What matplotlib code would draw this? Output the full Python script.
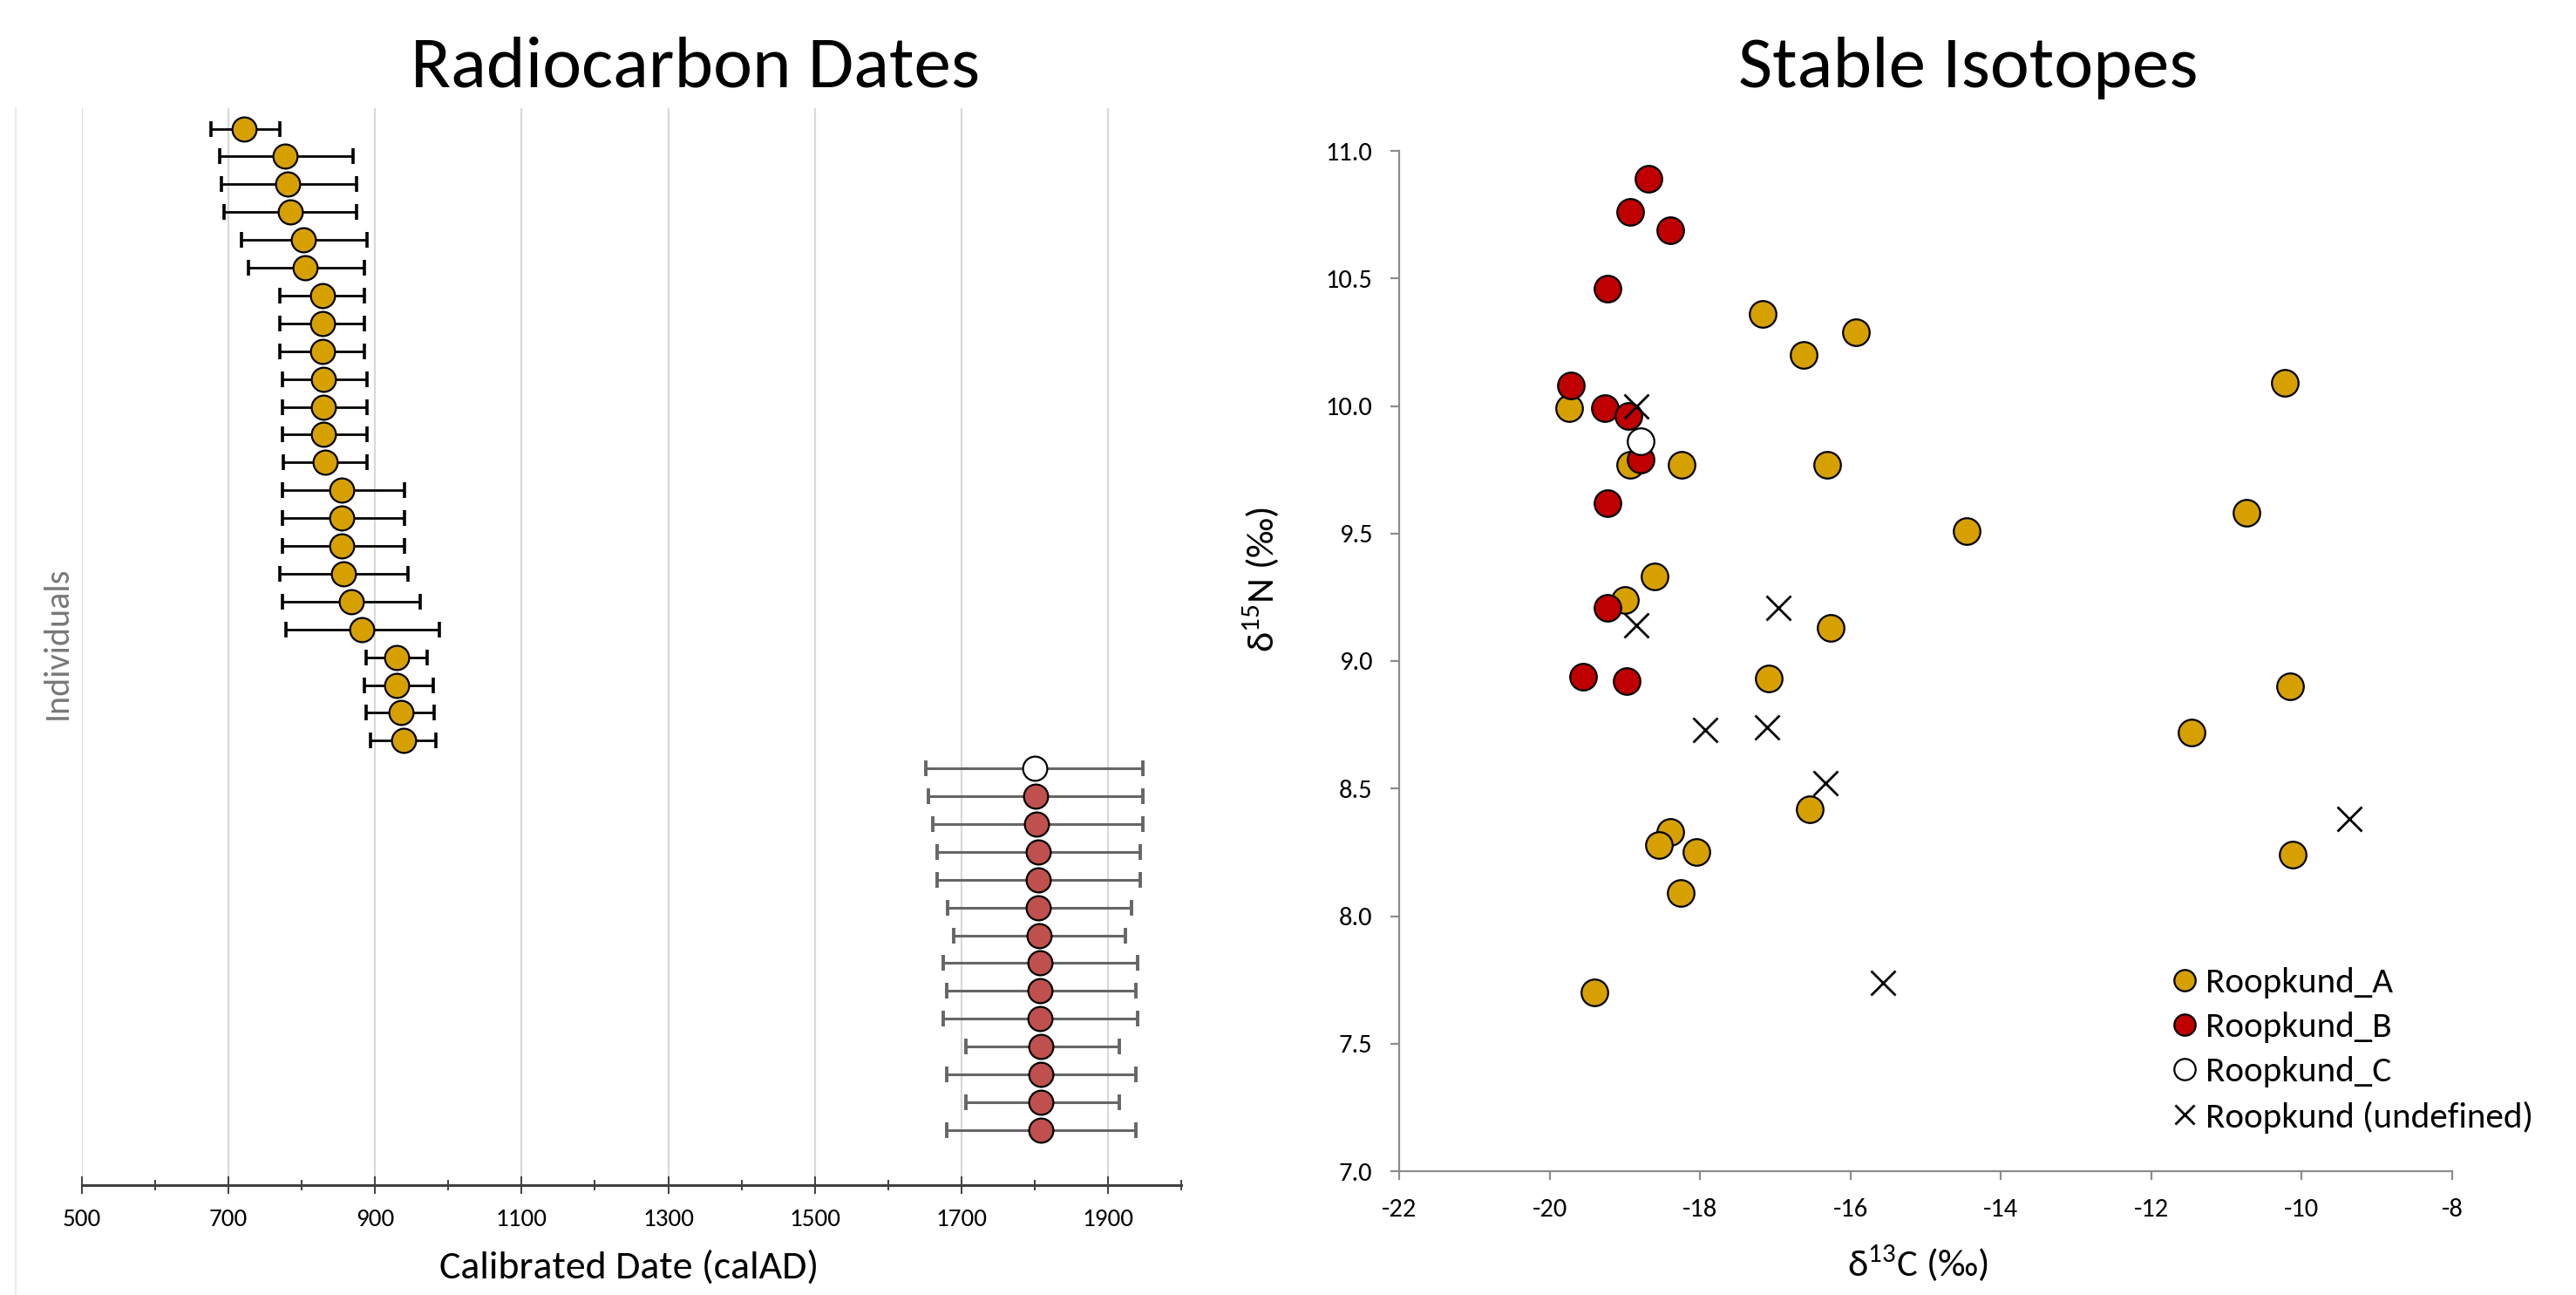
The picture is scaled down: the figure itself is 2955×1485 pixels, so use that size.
import matplotlib
matplotlib.use("Agg")
import matplotlib.pyplot as plt
import numpy as np
from matplotlib import font_manager
from matplotlib.lines import Line2D
from matplotlib.ticker import FixedLocator, FormatStrFormatter

W, H = 2955, 1485
DPI = 200

# pick a Calibri-like font if one is there
_names = {f.name for f in font_manager.fontManager.ttflist}
FONT = "Carlito" if "Carlito" in _names else "Lato"
plt.rcParams["font.family"] = [FONT, "DejaVu Sans"]
plt.rcParams["mathtext.fontset"] = "custom"
plt.rcParams["mathtext.rm"] = FONT
plt.rcParams["mathtext.fallback"] = "stixsans"
plt.rcParams["axes.unicode_minus"] = False

GOLD = "#D6A000"
RED_DATES = "#C0504D"
RED_ISO = "#C00000"

# ---- radiocarbon dates (calAD), top row first ----
gold_mid = [721, 777, 781, 784, 802, 804, 828, 828, 828, 830, 830, 830, 832,
            855, 855, 855, 857, 867, 882, 930, 930, 935, 939]
gold_lo = [676, 688, 690, 694, 718, 727, 770, 770, 770, 774, 774, 774, 775,
           773, 773, 773, 770, 774, 778, 888, 885, 888, 894]
gold_hi = [770, 870, 875, 875, 889, 885, 886, 886, 886, 889, 889, 889, 889,
           940, 940, 940, 945, 961, 988, 971, 979, 981, 983]

white_mid = [1800]
white_lo = [1652]
white_hi = [1948]

red_mid = [1801, 1803, 1805, 1805, 1805, 1806, 1807, 1807, 1807, 1809, 1809, 1809, 1809]
red_lo = [1655, 1661, 1667, 1667, 1681, 1690, 1675, 1680, 1675, 1706, 1680, 1706, 1680]
red_hi = [1948, 1948, 1944, 1944, 1932, 1924, 1941, 1938, 1941, 1915, 1938, 1915, 1938]

date_ticks = [500, 700, 900, 1100, 1300, 1500, 1700, 1900]

# ---- stable isotopes ----
a_c13 = [-19.74, -17.17, -16.62, -15.93, -18.93, -18.24, -16.31, -18.60, -19.00,
         -16.26, -17.09, -16.54, -18.39, -18.55, -18.05, -18.26, -19.40,
         -10.22, -10.74, -14.45, -10.15, -11.46, -10.12]
a_n15 = [9.99, 10.36, 10.20, 10.29, 9.77, 9.77, 9.77, 9.33, 9.24,
         9.13, 8.93, 8.42, 8.33, 8.28, 8.25, 8.09, 7.70,
         10.09, 9.58, 9.51, 8.90, 8.72, 8.24]
b_c13 = [-18.68, -18.93, -18.40, -19.23, -19.72, -19.27, -18.95, -18.79, -19.23,
         -19.23, -19.56, -18.97]
b_n15 = [10.89, 10.76, 10.69, 10.46, 10.08, 9.99, 9.96, 9.79, 9.62,
         9.21, 8.94, 8.92]
c_c13 = [-18.79]
c_n15 = [9.86]
u_c13 = [-18.85, -18.85, -16.96, -17.93, -17.11, -16.33, -15.57, -9.37]
u_n15 = [10.00, 9.14, 9.21, 8.73, 8.74, 8.52, 7.74, 8.38]

fig = plt.figure(figsize=(W / DPI, H / DPI), dpi=DPI)

# ================= left panel =================
ax1 = fig.add_axes([94 / W, 1 - 1359 / H, 1261 / W, (1359 - 124) / H])

n_gold = len(gold_mid)
y_gold = np.arange(n_gold)
y_white = np.arange(n_gold, n_gold + len(white_mid))
y_red = np.arange(n_gold + len(white_mid), n_gold + len(white_mid) + len(red_mid))


def dated(ax, ys, mid, lo, hi, face, ecol, elw, cthick):
    mid = np.array(mid)
    err = [mid - np.array(lo), np.array(hi) - mid]
    ax.errorbar(mid, ys, xerr=err, fmt="none", ecolor=ecol, elinewidth=elw,
                capsize=3.2, capthick=cthick, zorder=2)
    ax.plot(mid, ys, "o", ms=10, mfc=face, mec="black", mew=0.8, zorder=3)


dated(ax1, y_gold, gold_mid, gold_lo, gold_hi, GOLD, "black", 1.0, 1.3)
dated(ax1, y_white, white_mid, white_lo, white_hi, "white", "#666666", 1.1, 1.4)
dated(ax1, y_red, red_mid, red_lo, red_hi, RED_DATES, "#666666", 1.1, 1.4)

ax1.set_xlim(500, 2000)
ax1.set_ylim(len(y_gold) + len(y_white) + len(y_red) + 0.98, -0.74)
ax1.xaxis.set_major_locator(FixedLocator(date_ticks))
ax1.xaxis.set_minor_locator(FixedLocator(np.arange(600, 2001, 200)))
ax1.set_yticks([])
for s in ["top", "right", "left"]:
    ax1.spines[s].set_visible(False)
ax1.spines["bottom"].set_color("#404040")
ax1.spines["bottom"].set_linewidth(1.1)
ax1.grid(axis="x", which="major", color="#d9d9d9", lw=0.8, zorder=0)
ax1.set_axisbelow(True)
ax1.tick_params(axis="x", which="major", direction="inout", length=7.2, width=0.7,
                color="#404040", labelsize=10.5, pad=6)
ax1.tick_params(axis="x", which="minor", direction="inout", length=4.6, width=0.7,
                color="#404040")

fig.text(66 / W, 1 - 737 / H, "Individuals", rotation=90, ha="center", va="center",
         color="#787878", fontsize=14.4)
fig.text(722 / W, 1 - 1453 / H, "Calibrated Date (calAD)", ha="center", va="center",
         fontsize=16.5)
fig.text(798 / W, 1 - 100 / H, "Radiocarbon Dates", ha="center", va="baseline",
         fontsize=30.6)
fig.add_artist(Line2D([18 / W, 18 / W], [0, 1 - 124 / H], color="#ebebeb", lw=0.8))

# ================= right panel =================
ax2 = fig.add_axes([1605 / W, 1 - 1343 / H, (2813 - 1605) / W, (1343 - 173) / H])
ax2.plot(a_c13, a_n15, "o", ms=11, mfc=GOLD, mec="black", mew=0.8, ls="none",
         label="Roopkund_A", zorder=3)
ax2.plot(b_c13, b_n15, "o", ms=11, mfc=RED_ISO, mec="black", mew=0.8, ls="none",
         label="Roopkund_B", zorder=4)
ax2.plot(c_c13, c_n15, "o", ms=11, mfc="white", mec="black", mew=0.8, ls="none",
         label="Roopkund_C", zorder=5)
ax2.plot(u_c13, u_n15, "x", ms=10, mec="black", mew=1.0, ls="none",
         label="Roopkund (undefined)", zorder=6)

ax2.set_xlim(-22, -8)
ax2.set_ylim(7, 11)
ax2.set_xticks(np.arange(-22, -7, 2))
ax2.set_yticks(np.arange(7, 11.01, 0.5))
ax2.yaxis.set_major_formatter(FormatStrFormatter("%.1f"))
for s in ["top", "right"]:
    ax2.spines[s].set_visible(False)
for s in ["left", "bottom"]:
    ax2.spines[s].set_color("#8c8c8c")
    ax2.spines[s].set_linewidth(0.8)
ax2.tick_params(direction="out", length=3.6, width=0.8, color="#8c8c8c",
                labelsize=11, pad=7.5)

fig.text(1447 / W, 1 - 664 / H, r"δ$^{\mathregular{15}}$N (‰)", rotation=90,
         ha="center", va="center", fontsize=16)
fig.text(2200 / W, 1 - 1449 / H, r"δ$^{\mathregular{13}}$C (‰)", ha="center",
         va="center", fontsize=16)
fig.text(2258 / W, 1 - 100 / H, "Stable Isotopes", ha="center", va="baseline",
         fontsize=30.6)

ax2.legend(loc="upper left", bbox_to_anchor=(2485 / W, 1 - 1109 / H),
           bbox_transform=fig.transFigure, frameon=False, fontsize=14.8,
           handlelength=1.0, handletextpad=0.1, labelspacing=0.37,
           borderpad=0, borderaxespad=0, markerscale=0.8)

fig.savefig("out.png", dpi=DPI, facecolor="white")
